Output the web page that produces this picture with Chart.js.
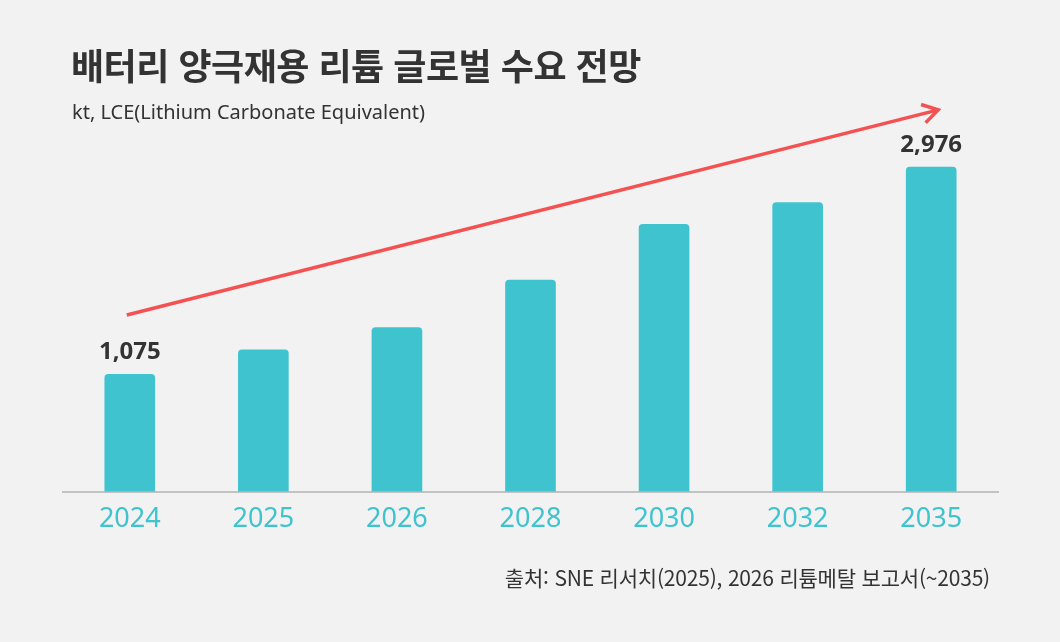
<!DOCTYPE html>
<html lang="ko">
<head>
<meta charset="utf-8">
<script src="https://cdn.jsdelivr.net/npm/chart.js@4"></script>
<style>
  html, body { margin: 0; padding: 0; background: #f2f2f2; }
  #wrap { position: relative; width: 1060px; height: 642px; overflow: hidden; background: #f2f2f2; }
  #chart { position: absolute; left: 0; top: 0; }
  .title {
    position: absolute; left: 71px; top: 38px;
    font-family: "Noto Sans CJK KR", "Noto Sans", sans-serif;
    font-weight: 700; font-size: 36px; letter-spacing: -0.5px; color: #333;
  }
  .unit {
    position: absolute; left: 72px; top: 98px;
    font-family: "Noto Sans", "Noto Sans CJK KR", sans-serif;
    font-size: 20px; color: #333;
  }
  .source {
    position: absolute; right: 70px; top: 562px;
    font-family: "Noto Sans CJK KR", "Noto Sans", sans-serif;
    font-size: 21px; color: #333; letter-spacing: -0.2px;
  }
</style>
</head>
<body>
<div id="wrap">
  <canvas id="chart" width="1060" height="642"></canvas>
  <div class="title">배터리 양극재용 리튬 글로벌 수요 전망</div>
  <div class="unit">kt, LCE(Lithium Carbonate Equivalent)</div>
  <div class="source">출처: SNE 리서치(2025), 2026 리튬메탈 보고서(~2035)</div>
</div>
<script>
// 데이터
const years = ['2024', '2025', '2026', '2028', '2030', '2032', '2035'];
const demand = [1075, 1300, 1505, 1940, 2450, 2650, 2976];
// 라벨 표시할 막대 (처음, 마지막)
const labeledIdx = [0, 6];
// 추세 화살표 (시작값, 끝값)
const trendValues = [1620, 3500];

const barColor = '#3fc3cf';

// 막대 위 값 라벨 + 추세 화살표
const overlayPlugin = {
    id: 'overlay',
    afterDatasetsDraw(chart) {
        const ctx = chart.ctx;
        const meta = chart.getDatasetMeta(0);
        const x = chart.scales.x;
        const y = chart.scales.y;

        ctx.save();
        ctx.fillStyle = '#333';
        ctx.font = 'bold 24px "Noto Sans", sans-serif';
        ctx.textAlign = 'center';
        ctx.textBaseline = 'middle';
        labeledIdx.forEach(i => {
            const bar = meta.data[i];
            ctx.fillText(demand[i].toLocaleString('en-US'), bar.x, bar.y - 22);
        });

        // 화살표
        const x0 = x.getPixelForValue(0) - 3;
        const x1 = x.getPixelForValue(years.length - 1) + 7;
        const y0 = y.getPixelForValue(trendValues[0]);
        const y1 = y.getPixelForValue(trendValues[1]);
        ctx.strokeStyle = '#f45252';
        ctx.lineWidth = 3.5;
        ctx.lineCap = 'butt';
        ctx.beginPath();
        ctx.moveTo(x0, y0);
        ctx.lineTo(x1, y1);
        ctx.stroke();

        const ang = Math.atan2(y1 - y0, x1 - x0);
        const len = 18;
        const spread = 0.55;
        ctx.lineJoin = 'miter';
        ctx.beginPath();
        ctx.moveTo(x1 - len * Math.cos(ang - spread), y1 - len * Math.sin(ang - spread));
        ctx.lineTo(x1, y1);
        ctx.lineTo(x1 - len * Math.cos(ang + spread), y1 - len * Math.sin(ang + spread));
        ctx.stroke();
        ctx.restore();
    }
};

new Chart(document.getElementById('chart').getContext('2d'), {
    type: 'bar',
    data: {
        labels: years,
        datasets: [{
            data: demand,
            backgroundColor: barColor,
            barThickness: 50,
            borderRadius: 4,
            borderSkipped: 'start'
        }]
    },
    options: {
        responsive: false,
        animation: false,
        layout: {
            padding: { left: 63, right: 62, top: 99, bottom: 102 }
        },
        plugins: {
            legend: { display: false },
            tooltip: { enabled: false }
        },
        scales: {
            x: {
                grid: { display: false },
                border: { display: true, color: '#c2c2c2', width: 2 },
                ticks: {
                    color: barColor,
                    padding: 4,
                    font: { family: '"Noto Sans", sans-serif', size: 27 }
                }
            },
            y: {
                display: false,
                min: 0,
                max: 3600
            }
        }
    },
    plugins: [overlayPlugin]
});
</script>
</body>
</html>
